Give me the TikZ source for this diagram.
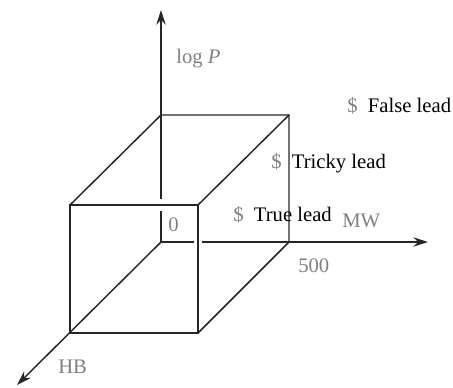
\documentclass[tikz,border=0pt]{standalone}
\usepackage{fontspec}
\setmainfont{Liberation Serif}
\usepackage{xcolor}
\usetikzlibrary{arrows.meta,positioning}

\begin{document}
\begin{tikzpicture}[x=0.75pt,y=-0.75pt,
    edge/.style={draw=black!85,line width=1.1pt},
    axis/.style={edge,-{Stealth[length=11pt,width=7pt]}},
    lbl/.style={text=gray,inner sep=0pt,anchor=base west,font=\fontsize{15.5}{18}\selectfont},
    lead/.style={inner sep=0pt,anchor=base west,font=\fontsize{15.5}{18}\selectfont}]
  \useasboundingbox (0,0) rectangle (453,387);
  \def\dol{{\color{gray}\$}\enspace}
  % back face and front face corners
  \coordinate (O) at (161,242);
  \coordinate (bt) at (161,115);
  \coordinate (btr) at (289,115);
  \coordinate (bbr) at (289,242);
  \coordinate (fbl) at (70,333);
  \coordinate (ftl) at (70,205);
  \coordinate (ftr) at (198,205);
  \coordinate (fbr) at (198,333);
  % axis ends
  \coordinate (Ptip) at (161,10);
  \coordinate (Mtip) at (428,242);
  \coordinate (Htip) at (17,385);
  \coordinate (gapP1) at (161,211);
  \coordinate (gapP2) at (161,199);
  \coordinate (gapM1) at (194,242);
  \coordinate (gapM2) at (202,242);
  % axes
  \draw[edge] (O) -- (gapP1);
  \draw[axis] (gapP2) -- (Ptip);
  \draw[edge] (O) -- (gapM1);
  \draw[axis] (gapM2) -- (Mtip);
  \draw[axis] (O) -- (Htip);
  % cube
  \draw[edge] (ftl) rectangle (fbr);
  \draw[edge] (ftl) -- (bt) -- (btr) -- (bbr) -- (fbr);
  \draw[edge] (btr) -- (ftr);
  % labels
  \node[lbl] (logP) at (176,63) {log \textit{P}};
  \node[lbl] (zero) at (168,231) {0};
  \node[lbl] (MW) at (342,227) {MW};
  \node[lbl] (five) at (298,272) {500};
  \node[lbl] (HB) at (58,373) {HB};
  \node[lead] (false) at (347,112) {\dol False lead};
  \node[lead] (tricky) at (271,168) {\dol Tricky lead};
  \node[lead] (true) at (233,221) {\dol True lead};
\end{tikzpicture}
\end{document}
